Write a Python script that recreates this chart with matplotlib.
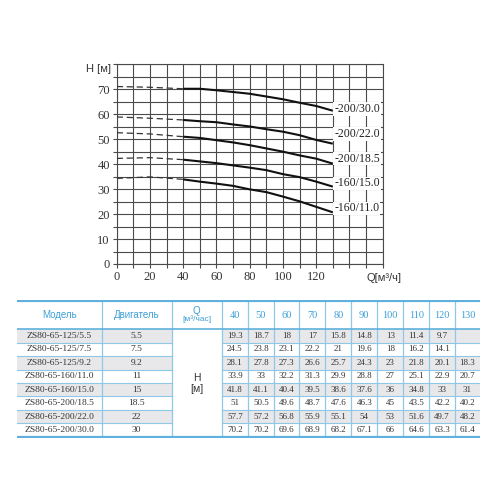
import matplotlib
matplotlib.use("Agg")
import matplotlib.pyplot as plt
from matplotlib.patches import Rectangle

# ---------------- data ----------------
q_flow = [40, 50, 60, 70, 80, 90, 100, 110, 120, 130]
models = ["ZS80-65-125/5.5", "ZS80-65-125/7.5", "ZS80-65-125/9.2",
          "ZS80-65-160/11.0", "ZS80-65-160/15.0", "ZS80-65-200/18.5",
          "ZS80-65-200/22.0", "ZS80-65-200/30.0"]
motors = ["5.5", "7.5", "9.2", "11", "15", "18.5", "22", "30"]
h_125_55 = ["19.3", "18.7", "18", "17", "15.8", "14.8", "13", "11.4", "9.7", ""]
h_125_75 = ["24.5", "23.8", "23.1", "22.2", "21", "19.6", "18", "16.2", "14.1", ""]
h_125_92 = ["28.1", "27.8", "27.3", "26.6", "25.7", "24.3", "23", "21.8", "20.1", "18.3"]
h_160_110 = ["33.9", "33", "32.2", "31.3", "29.9", "28.8", "27", "25.1", "22.9", "20.7"]
h_160_150 = ["41.8", "41.1", "40.4", "39.5", "38.6", "37.6", "36", "34.8", "33", "31"]
h_200_185 = ["51", "50.5", "49.6", "48.7", "47.6", "46.3", "45", "43.5", "42.2", "40.2"]
h_200_220 = ["57.7", "57.2", "56.8", "55.9", "55.1", "54", "53", "51.6", "49.7", "48.2"]
h_200_300 = ["70.2", "70.2", "69.6", "68.9", "68.2", "67.1", "66", "64.6", "63.3", "61.4"]
table_rows = [h_125_55, h_125_75, h_125_92, h_160_110, h_160_150,
              h_200_185, h_200_220, h_200_300]

# curves shown in chart
curve_labels = ["-200/30.0", "-200/22.0", "-200/18.5", "-160/15.0", "-160/11.0"]
curve_rows = [h_200_300, h_200_220, h_200_185, h_160_150, h_160_110]
label_y = [62, 52, 42.2, 32.3, 22.3]
# dashed (low-flow) part
q_dash = [0, 20, 40]
h_dash = [[71.1, 70.8, 70.2],
          [58.9, 58.4, 57.7],
          [52.6, 52.1, 51.0],
          [42.3, 42.6, 41.8],
          [34.3, 34.9, 33.9]]

x_ticks = [0, 20, 40, 60, 80, 100, 120]
y_ticks = [0, 10, 20, 30, 40, 50, 60, 70]

# ---------------- figure ----------------
fig = plt.figure(figsize=(5, 5), dpi=100)
W = H = 500.0
ax = fig.add_axes([116.7 / W, 1 - 264 / H, 266 / W, 199.7 / H])
ax.set_xlim(0, 160)
ax.set_ylim(0, 80)
ax.set_xticks(range(0, 161, 10))
ax.set_yticks(range(0, 81, 5))
tick_font = dict(fontfamily="Liberation Serif", fontsize=9, color="#333333")
ax.set_xticklabels([str(v) if v in x_ticks else "" for v in range(0, 161, 10)], **tick_font)
ax.set_yticklabels([str(v) if v in y_ticks else "" for v in range(0, 81, 5)], **tick_font)
ax.grid(True, color="#4a4a4a", lw=0.8)
for s in ax.spines.values():
    s.set_color("#4a4a4a")
    s.set_linewidth(0.8)
ax.tick_params(direction="out", length=3, width=0.8, color="#4a4a4a", pad=2)
ax.set_axisbelow(True)

for lab, row, ly, dash in zip(curve_labels, curve_rows, label_y, h_dash):
    vals = [float(v) for v in row]
    ax.plot(q_flow, vals, color="#111111", lw=1.5, solid_capstyle="butt", zorder=3)
    ax.plot(q_dash, dash, color="#333333", lw=0.9, ls=(0, (5, 3)), zorder=3)
    ax.text(130.8, ly, lab, fontsize=8.5, family="Liberation Serif", color="#222222",
            ha="left", va="center", zorder=4,
            bbox=dict(facecolor="white", edgecolor="none", pad=0.6))

fig.text(86.5 / W, 1 - 69.5 / H, "H [м]", fontsize=8, family="Liberation Sans",
         color="#333333", ha="left", va="center")
fig.text(366.5 / W, 1 - 278 / H, "Q[м³/ч]", fontsize=8, family="Liberation Sans",
         color="#333333", ha="left", va="center")

# ---------------- table ----------------
col_edges = [16.7, 101.7, 171.7, 221.7, 248, 274, 299.3, 325.3, 351.3,
             377.3, 403.3, 429.3, 455, 480]
head_top, head_bot, tab_bot = 301, 329.3, 436.7
n = len(models)
row_h = (tab_bot - head_bot) / n
tx = fig.add_axes([col_edges[0] / W, 1 - (tab_bot + 1) / H,
                   (col_edges[-1] - col_edges[0]) / W, (tab_bot + 1 - (head_top - 1)) / H])
tx.set_xlim(col_edges[0], col_edges[-1])
tx.set_ylim(tab_bot + 1, head_top - 1)
tx.axis("off")

blue_txt = "#3c9fd6"
line_c = "#8ec8e6"
dark_line = "#5fb0dc"
gray = "#e8e8ea"

# shading
for i in range(n):
    y0 = head_bot + i * row_h
    if i % 2 == 0:
        for (a, b) in [(col_edges[0], col_edges[2]), (col_edges[3], col_edges[-1])]:
            tx.add_patch(Rectangle((a, y0), b - a, row_h, facecolor=gray,
                                   edgecolor="none", zorder=1))

# horizontal lines
tx.plot([col_edges[0], col_edges[-1]], [head_top, head_top], color=dark_line, lw=1.6, zorder=3)
tx.plot([col_edges[0], col_edges[-1]], [head_bot, head_bot], color=dark_line, lw=1.2, zorder=3)
tx.plot([col_edges[0], col_edges[-1]], [tab_bot, tab_bot], color=dark_line, lw=1.6, zorder=3)
for i in range(1, n):
    y = head_bot + i * row_h
    for (a, b) in [(col_edges[0], col_edges[2]), (col_edges[3], col_edges[-1])]:
        tx.plot([a, b], [y, y], color=line_c, lw=0.8, zorder=2)
# vertical lines
for x in col_edges[1:-1]:
    tx.plot([x, x], [head_top, tab_bot], color=line_c, lw=0.9, zorder=2)

# header
hy = (head_top + head_bot) / 2
tx.text((col_edges[0] + col_edges[1]) / 2, hy, "Модель", ha="center", va="center",
        fontsize=7, family="Liberation Sans", color=blue_txt, zorder=4)
tx.text((col_edges[1] + col_edges[2]) / 2, hy, "Двигатель", ha="center", va="center",
        fontsize=7, family="Liberation Sans", color=blue_txt, zorder=4)
qx = (col_edges[2] + col_edges[3]) / 2
tx.text(qx, hy - 4.5, "Q", ha="center", va="center",
        fontsize=7, family="Liberation Sans", color=blue_txt, zorder=4)
tx.text(qx, hy + 3.5, "[м³/час]", ha="center", va="center",
        fontsize=6, family="Liberation Sans", color=blue_txt, zorder=4)
for j, q in enumerate(q_flow):
    cx = (col_edges[3 + j] + col_edges[4 + j]) / 2
    tx.text(cx, hy, str(q), ha="center", va="center", fontsize=7.5,
            family="Liberation Serif", color=blue_txt, zorder=4)

# H merged cell
tx.text(qx, (head_bot + tab_bot) / 2 - 5, "H", ha="center", va="center",
        fontsize=7.5, family="Liberation Sans", color="#333333", zorder=4)
tx.text(qx, (head_bot + tab_bot) / 2 + 6, "[м]", ha="center", va="center",
        fontsize=7.5, family="Liberation Sans", color="#333333", zorder=4)

# body
for i, (m, mo, row) in enumerate(zip(models, motors, table_rows)):
    cy = head_bot + (i + 0.5) * row_h
    tx.text((col_edges[0] + col_edges[1]) / 2, cy, m, ha="center", va="center",
            fontsize=6.8, family="Liberation Serif", color="#333333", zorder=4)
    tx.text((col_edges[1] + col_edges[2]) / 2, cy, mo, ha="center", va="center",
            fontsize=6.8, family="Liberation Serif", color="#333333", zorder=4)
    for j, v in enumerate(row):
        cx = (col_edges[3 + j] + col_edges[4 + j]) / 2
        tx.text(cx, cy, v, ha="center", va="center", fontsize=6.5,
                family="Liberation Serif", color="#333333", zorder=4)

fig.savefig("out.png", dpi=100, facecolor="white")
